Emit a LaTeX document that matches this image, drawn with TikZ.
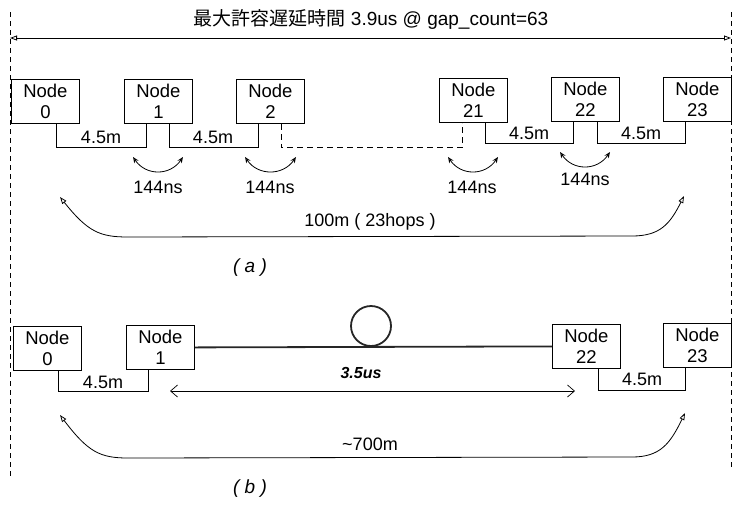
\documentclass[tikz,border=0pt]{standalone}
\usepackage{fontspec}
\setmainfont{Liberation Sans}
\newfontfamily\cjk{Noto Sans CJK JP}
\usetikzlibrary{arrows.meta}
\begin{document}
\begin{tikzpicture}[x=1pt,y=-1pt,
  nodebox/.style={draw, line width=0.8pt, minimum width=68pt, minimum height=44pt, inner sep=0pt, align=center, anchor=north west, font=\fontsize{18.5}{21}\selectfont},
  wire/.style={line width=0.8pt},
  dwire/.style={line width=0.8pt, dash pattern=on 6pt off 4pt},
  lbl/.style={font=\fontsize{18}{20}\selectfont, inner sep=0pt},
  sublbl/.style={font=\fontsize{19}{21}\selectfont\itshape, inner sep=0pt},
  vdash/.style={line width=0.6pt, dash pattern=on 5pt off 4pt},
  bigarrow/.style={line width=0.8pt, {Triangle[open,length=7pt,width=5pt]}-{Triangle[open,length=7pt,width=5pt]}},
  hoparrow/.style={line width=0.8pt, {Stealth[open,length=6pt,width=5pt]}-{Stealth[open,length=6pt,width=5pt]}},
  timearrow/.style={line width=0.7pt, {Straight Barb[length=7pt,width=12pt]}-{Straight Barb[length=7pt,width=12pt]}},
  fiber/.style={line width=1.8pt, black!85}
]
\useasboundingbox (0,0) rectangle (735,504);

% frame dashed lines and top arrow
\coordinate (vl1) at (10,12); \coordinate (vl2) at (10,478);
\coordinate (vr1) at (731,12); \coordinate (vr2) at (731,470);
\draw[vdash] (vl1) -- (vl2);
\draw[vdash] (vr1) -- (vr2);
\coordinate (tL) at (10,38); \coordinate (tR) at (731,38);
\draw[bigarrow] (tL) -- (tR);
\node[font=\fontsize{19}{21}\selectfont, inner sep=0pt] (title) at (371,19) {{\cjk 最大許容遅延時間} 3.9us @ gap\_count=63};

% ---------- (a) ----------
\node[nodebox] (a0) at (11,79) {Node\\0};
\node[nodebox] (a1) at (124,79) {Node\\1};
\node[nodebox] (a2) at (236,79) {Node\\2};
\node[nodebox] (a21) at (439,78) {Node\\21};
\node[nodebox] (a22) at (551,77) {Node\\22};
\node[nodebox] (a23) at (663,77) {Node\\23};

\draw[wire] ([xshift=11pt]a0.south) -- ++(0,24) -| ([xshift=-12pt]a1.south);
\draw[wire] ([xshift=11pt]a1.south) -- ++(0,24) -| ([xshift=-12pt]a2.south);
\draw[dwire] ([xshift=11pt]a2.south) -- ++(0,24) -| ([xshift=-11pt]a21.south);
\draw[wire] ([xshift=12pt]a21.south) -- ++(0,21) -| ([xshift=-12pt]a22.south);
\draw[wire] ([xshift=12pt]a22.south) -- ++(0,22) -| ([xshift=-12pt]a23.south);

\node[lbl] (w01) at (101,137) {4.5m};
\node[lbl] (w12) at (213,137) {4.5m};
\node[lbl] (w2122) at (529,133) {4.5m};
\node[lbl] (w2223) at (641,133) {4.5m};

% hop delay arrows
\coordinate (h1a) at (133,157); \coordinate (h1b) at (183,157);
\coordinate (h2a) at (245,157); \coordinate (h2b) at (296,157);
\coordinate (h3a) at (448,157); \coordinate (h3b) at (498,157);
\coordinate (h4a) at (560,152); \coordinate (h4b) at (610,152);
\draw[hoparrow] (h1a) .. controls (146,176) and (170,176) .. (h1b);
\draw[hoparrow] (h2a) .. controls (258,176) and (283,176) .. (h2b);
\draw[hoparrow] (h3a) .. controls (461,176) and (485,176) .. (h3b);
\draw[hoparrow] (h4a) .. controls (573,171) and (597,171) .. (h4b);
\node[lbl] (d1) at (158,187) {144ns};
\node[lbl] (d2) at (270,187) {144ns};
\node[lbl] (d3) at (472,187) {144ns};
\node[lbl] (d4) at (585,179) {144ns};

% overall arrow (a)
\coordinate (aL) at (60,197); \coordinate (aR) at (684,196);
\draw[bigarrow] (aL) .. controls (88,232) and (100,237) .. (128,237) -- (632,236) .. controls (660,236) and (670,224) .. (aR);
\node[lbl] (la) at (370,222) {100m ( 23hops )};
\node[sublbl] (capa) at (250,268) {( a )};

% ---------- (b) ----------
\node[nodebox] (b0) at (13,326) {Node\\0};
\node[nodebox] (b1) at (126,325) {Node\\1};
\node[nodebox] (b22) at (552,324) {Node\\22};
\node[nodebox] (b23) at (663,323) {Node\\23};

\draw[wire] ([xshift=11pt]b0.south) -- ++(0,21) -| ([xshift=-12pt]b1.south);
\draw[wire] ([xshift=12pt]b22.south) -- ++(0,22) -| ([xshift=-12pt]b23.south);
\node[lbl] (w01b) at (103,382) {4.5m};
\node[lbl] (w2223b) at (642,379) {4.5m};

\draw[fiber] (b1.east) -- (b22.west);
\coordinate (coil) at (371,326);
\draw[fiber] (coil) circle[radius=20pt];

\coordinate (tA) at (170,391); \coordinate (tB) at (575,391);
\draw[timearrow] (tA) -- (tB);
\node[lbl, font=\fontsize{16}{19}\selectfont\bfseries\itshape] (t35) at (361,373) {3.5us};

\coordinate (bL) at (60,415); \coordinate (bR) at (685,413);
\draw[bigarrow] (bL) .. controls (88,452) and (100,458) .. (128,458) -- (632,457) .. controls (660,457) and (670,444) .. (bR);
\node[lbl] (lb) at (370,444) {\textasciitilde700m};
\node[sublbl] (capb) at (250,489) {( b )};
\end{tikzpicture}
\end{document}
